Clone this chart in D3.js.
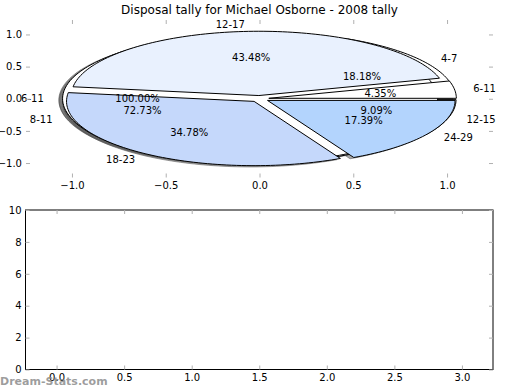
<!DOCTYPE html>
<html>
<head>
<meta charset="utf-8">
<script src="https://cdn.jsdelivr.net/npm/d3@7"></script>
<style>
  body { margin: 0; background: #fff; }
  svg { display: block; font-family: "DejaVu Sans", sans-serif; }
</style>
</head>
<body>
<svg id="chart" width="520" height="390"></svg>
<script>
// pies, drawn in this order (last one ends up on top)
const pieBLabels = ["4-7", "8-11", "12-15"];
const pieBValues = [2, 8, 1];
const pieBColors = ["#ffffff", "#ffffff", "#ffffff"];

const pieCLabels = ["6-11"];
const pieCValues = [1];
const pieCColors = ["#ffffff"];

const pieALabels = ["6-11", "12-17", "18-23", "24-29"];
const pieAValues = [1, 10, 8, 4];
const pieAColors = ["#ffffff", "#e9f1fe", "#c5d8fb", "#b3d4fd"];

const topXTicks = [-1.0, -0.5, 0.0, 0.5, 1.0];
const topYTicks = [-1.0, -0.5, 0.0, 0.5, 1.0];
const bottomXTicks = [0.0, 0.5, 1.0, 1.5, 2.0, 2.5, 3.0];
const bottomYTicks = [0, 2, 4, 6, 8, 10];

const titleText = "Disposal tally for Michael Osborne - 2008 tally";

const explode = 0.05;
const labelDist = 1.1;
const pctDist = 0.6;

const svg = d3.select("#chart");

const x = d3.scaleLinear().domain([-1.245, 1.245]).range([26, 493]);
const y = d3.scaleLinear().domain([-1.225, 1.225]).range([177.5, 20]);

const bx = d3.scaleLinear().domain([-0.23, 3.23]).range([25.5, 493]);
const by = d3.scaleLinear().domain([0, 10]).range([369.5, 210]);

const line = d3.line().x(d => x(d[0])).y(d => y(d[1]));

function wedgePoints(cx, cy, t1, t2) {
    const full = Math.abs(t2 - t1 - 2 * Math.PI) < 1e-9;
    const n = Math.max(4, Math.ceil((t2 - t1) / (2 * Math.PI) * 240));
    const pts = full ? [] : [[cx, cy]];
    for (let i = 0; i <= n; i++) {
        const t = t1 + (t2 - t1) * i / n;
        pts.push([cx + Math.cos(t), cy + Math.sin(t)]);
    }
    return pts;
}

const pieLayout = d3.pie().sort(null).value(d => d);

function buildPie(labels, values, colors) {
    const total = d3.sum(values);
    return pieLayout(values).map((a, i) => {
        const mid = (a.startAngle + a.endAngle) / 2;
        const cx = explode * Math.cos(mid);
        const cy = explode * Math.sin(mid);
        return {
            label: labels[i],
            pct: (values[i] / total * 100).toFixed(2) + "%",
            color: colors[i],
            mid: mid,
            cx: cx,
            cy: cy,
            pts: wedgePoints(cx, cy, a.startAngle, a.endAngle)
        };
    });
}

const pies = [
    buildPie(pieBLabels, pieBValues, pieBColors),
    buildPie(pieCLabels, pieCValues, pieCColors),
    buildPie(pieALabels, pieAValues, pieAColors)
];
const wedges = pies.flat();

// shadows go under every wedge
const shadowX = x(-0.02) - x(0);
const shadowY = y(-0.02) - y(0);
svg.append("g")
    .attr("transform", `translate(${shadowX},${shadowY})`)
    .selectAll("path")
    .data(wedges)
    .enter()
    .append("path")
    .attr("d", d => line(d.pts) + "Z")
    .attr("fill", "#4d4d4d")
    .attr("fill-opacity", 0.5)
    .attr("stroke", "#4d4d4d")
    .attr("stroke-opacity", 0.5)
    .attr("stroke-width", 1);

svg.append("g")
    .selectAll("path")
    .data(wedges)
    .enter()
    .append("path")
    .attr("d", d => line(d.pts) + "Z")
    .attr("fill", d => d.color)
    .attr("stroke", "#000")
    .attr("stroke-width", 1)
    .attr("stroke-linejoin", "miter");

// labels and percentages
const textG = svg.append("g").attr("font-size", "10px").attr("fill", "#000");
wedges.forEach(d => {
    const lx = d.cx + labelDist * Math.cos(d.mid);
    const ly = d.cy + labelDist * Math.sin(d.mid);
    textG.append("text")
        .attr("x", x(lx))
        .attr("y", y(ly))
        .attr("dy", "0.35em")
        .attr("text-anchor", lx > 0 ? "start" : "end")
        .text(d.label);
    textG.append("text")
        .attr("x", x(d.cx + pctDist * Math.cos(d.mid)))
        .attr("y", y(d.cy + pctDist * Math.sin(d.mid)))
        .attr("dy", "0.35em")
        .attr("text-anchor", "middle")
        .text(d.pct);
});

// axes
const fmt = d3.format(".1f");
const tickGrey = "#b0b0b0";

function styleAxis(g, hideDomain) {
    g.attr("font-family", "DejaVu Sans, sans-serif").attr("font-size", "10px");
    g.selectAll(".tick line").attr("stroke", tickGrey);
    g.selectAll(".tick text").attr("fill", "#000");
    if (hideDomain) g.select(".domain").remove();
}

// top (pie) axes: no frame, only tick marks
svg.append("g").attr("transform", `translate(0,${y.range()[0]})`)
    .call(d3.axisBottom(x).tickValues(topXTicks).tickFormat(fmt).tickSizeInner(-4).tickSizeOuter(0).tickPadding(4))
    .call(g => styleAxis(g, true));
svg.append("g").attr("transform", `translate(0,${y.range()[1]})`)
    .call(d3.axisTop(x).tickValues(topXTicks).tickFormat("").tickSizeInner(-4).tickSizeOuter(0))
    .call(g => styleAxis(g, true));
svg.append("g").attr("transform", `translate(${x.range()[0]},0)`)
    .call(d3.axisLeft(y).tickValues(topYTicks).tickFormat(fmt).tickSizeInner(-4).tickSizeOuter(0).tickPadding(4))
    .call(g => styleAxis(g, true));
svg.append("g").attr("transform", `translate(${x.range()[1]},0)`)
    .call(d3.axisRight(y).tickValues(topYTicks).tickFormat("").tickSizeInner(-4).tickSizeOuter(0))
    .call(g => styleAxis(g, true));

// bottom (empty) axes
svg.append("rect")
    .attr("x", bx.range()[0])
    .attr("y", by.range()[1])
    .attr("width", bx.range()[1] - bx.range()[0])
    .attr("height", by.range()[0] - by.range()[1])
    .attr("fill", "none")
    .attr("stroke", "#000")
    .attr("stroke-width", 1);
svg.append("g").attr("transform", `translate(0,${by.range()[0]})`)
    .call(d3.axisBottom(bx).tickValues(bottomXTicks).tickFormat(fmt).tickSizeInner(-4).tickSizeOuter(0).tickPadding(4))
    .call(g => styleAxis(g, true));
svg.append("g").attr("transform", `translate(0,${by.range()[1]})`)
    .call(d3.axisTop(bx).tickValues(bottomXTicks).tickFormat("").tickSizeInner(-4).tickSizeOuter(0))
    .call(g => styleAxis(g, true));
svg.append("g").attr("transform", `translate(${bx.range()[0]},0)`)
    .call(d3.axisLeft(by).tickValues(bottomYTicks).tickFormat(d3.format("d")).tickSizeInner(-4).tickSizeOuter(0).tickPadding(4))
    .call(g => styleAxis(g, true));
svg.append("g").attr("transform", `translate(${bx.range()[1]},0)`)
    .call(d3.axisRight(by).tickValues(bottomYTicks).tickFormat("").tickSizeInner(-4).tickSizeOuter(0))
    .call(g => styleAxis(g, true));

// title
svg.append("text")
    .attr("x", 259.5)
    .attr("y", 14)
    .attr("text-anchor", "middle")
    .attr("font-size", "12px")
    .attr("fill", "#000")
    .text(titleText);

// watermark
svg.append("text")
    .attr("x", 0)
    .attr("y", 385)
    .attr("font-size", "11px")
    .attr("font-weight", "bold")
    .attr("fill", "#8c8c8c")
    .attr("fill-opacity", 0.85)
    .text("Dream-Stats.com");
</script>
</body>
</html>
